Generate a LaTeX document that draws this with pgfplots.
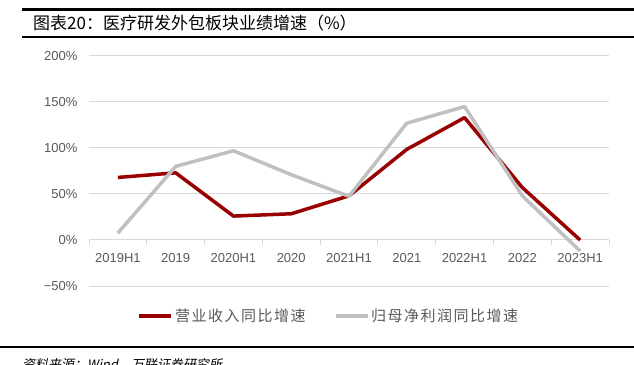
\documentclass[border=0pt]{standalone}
\usepackage{pgfplots}
\pgfplotsset{compat=1.18}
\usepackage{fontspec}
\setmainfont{Liberation Sans}
\newfontfamily\cjk{Noto Sans CJK SC}
\newfontfamily\cjkleg[LetterSpace=10]{Noto Sans CJK SC}
\newfontfamily\cjkit[FakeSlant=0.2]{Noto Sans CJK SC}
\definecolor{redl}{HTML}{990000}
\definecolor{grayl}{HTML}{C0C0C0}
\definecolor{gridc}{HTML}{D9D9D9}
\definecolor{txt}{HTML}{595959}
\begin{document}
\begin{tikzpicture}
\path[use as bounding box] (0pt,0pt) rectangle (634pt,364pt);
% header
\draw[line width=3pt] (22pt,354pt) -- (634pt,354pt);
\draw[line width=2pt] (22pt,327pt) -- (634pt,327pt);
\node[anchor=base west, inner sep=0pt, font=\fontsize{17}{19}\selectfont\cjk] at (33pt,334pt) {图表20：医疗研发外包板块业绩增速（\%）};
% footer
\draw[line width=2pt] (0pt,17pt) -- (634pt,17pt);
\node[anchor=base west, inner sep=0pt, font=\fontsize{13}{15}\selectfont\cjkit] at (22pt,-5pt) {资料来源：Wind，万联证券研究所};
\begin{axis}[
  at={(89pt,78pt)}, anchor=south west,
  scale only axis, width=520pt, height=230pt,
  xmin=-0.5, xmax=8.5, ymin=-50, ymax=200,
  axis line style={draw=none},
  major tick length=0pt,
  xtick={0,...,8},
  xticklabels={2019H1,2019,2020H1,2020,2021H1,2021,2022H1,2022,2023H1},
  ytick={-50,0,50,100,150,200},
  yticklabels={−50\%,0\%,50\%,100\%,150\%,200\%},
  ymajorgrids, grid style={gridc, line width=1pt},
  tick label style={font=\fontsize{13}{15}\selectfont, text=txt},
  yticklabel style={xshift=-8pt},
  xticklabel style={anchor=north, yshift=36pt},
  clip=false,
  legend style={at={(0.5,-0.13)}, xshift=-20pt, anchor=center, draw=none, fill=none, legend columns=2,
    font=\fontsize{15}{17}\selectfont\cjkleg, text=txt,
    /tikz/every even column/.append style={column sep=26pt}},
  legend image code/.code={\draw[#1] (0pt,0pt) -- (32pt,0pt);},
]
\addplot[redl, line width=3.5pt, line join=round] coordinates {(0,68) (1,73) (2,26) (3,28.5) (4,48) (5,98.5) (6,133) (7,57) (8,0)};
\addplot[grayl, line width=3.5pt, line join=round] coordinates {(0,7.5) (1,80) (2,97) (3,71) (4,47.5) (5,127) (6,145) (7,48) (8,-12)};
\legend{营业收入同比增速,归母净利润同比增速}
\pgfplotsinvokeforeach{-0.5,0.5,...,8.5}{\draw[gridc, line width=1pt] (axis cs:#1,0) -- ([yshift=-5pt]axis cs:#1,0);}
\end{axis}
\end{tikzpicture}
\end{document}
